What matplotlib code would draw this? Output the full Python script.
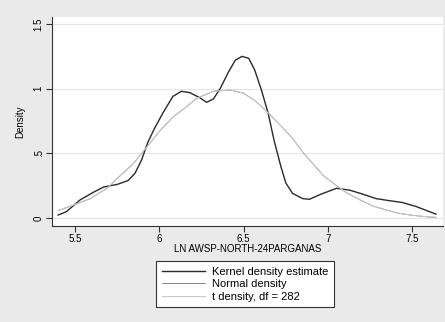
import matplotlib
matplotlib.use("Agg")
import matplotlib.pyplot as plt

plt.rcParams["font.family"] = ["Liberation Sans", "DejaVu Sans"]

# Kernel density estimate
kern_x = [5.40, 5.45, 5.53, 5.61, 5.67, 5.75, 5.815, 5.855, 5.895, 5.93, 5.97, 6.02,
          6.08, 6.13, 6.18, 6.24, 6.28, 6.32, 6.36, 6.41, 6.45, 6.49, 6.53, 6.565,
          6.605, 6.645, 6.68, 6.72, 6.75, 6.79, 6.85, 6.89, 6.95, 7.05, 7.13, 7.205,
          7.285, 7.36, 7.44, 7.52, 7.58, 7.64]
kern_y = [0.023, 0.05, 0.14, 0.20, 0.24, 0.26, 0.29, 0.345, 0.45, 0.58, 0.69, 0.81,
          0.94, 0.98, 0.97, 0.93, 0.895, 0.92, 1.00, 1.13, 1.22, 1.25, 1.235, 1.145,
          0.99, 0.81, 0.60, 0.40, 0.27, 0.19, 0.15, 0.145, 0.18, 0.23, 0.215, 0.185,
          0.15, 0.135, 0.12, 0.09, 0.06, 0.03]

# Normal density and t density (df = 282), nearly identical
dens_x = [5.40, 5.49, 5.59, 5.69, 5.77, 5.845, 5.92, 6.00, 6.08, 6.16, 6.22, 6.32,
          6.42, 6.50, 6.575, 6.655, 6.73, 6.79, 6.85, 6.91, 6.97, 7.03, 7.11, 7.19,
          7.265, 7.345, 7.42, 7.50, 7.58, 7.64]
norm_y = [0.057, 0.10, 0.15, 0.23, 0.33, 0.42, 0.54, 0.67, 0.78, 0.86, 0.925, 0.98,
          0.99, 0.965, 0.90, 0.80, 0.70, 0.615, 0.51, 0.42, 0.33, 0.27, 0.195, 0.14,
          0.093, 0.062, 0.036, 0.021, 0.01, 0.005]
t_y = [0.058, 0.10, 0.15, 0.23, 0.33, 0.42, 0.54, 0.67, 0.78, 0.86, 0.925, 0.98,
       0.99, 0.965, 0.90, 0.80, 0.70, 0.615, 0.51, 0.42, 0.33, 0.27, 0.195, 0.14,
       0.093, 0.062, 0.037, 0.021, 0.011, 0.006]

x_ticks = [5.5, 6, 6.5, 7, 7.5]
x_labels = ["5.5", "6", "6.5", "7", "7.5"]
y_ticks = [0, 0.5, 1, 1.5]
y_labels = ["0", ".5", "1", "1.5"]

bg = "#eaeaea"
fig = plt.figure(figsize=(4.45, 3.22), dpi=100, facecolor=bg)
ax = fig.add_axes([0.117, 0.298, 0.878, 0.649])
ax.set_facecolor("white")

for yt in y_ticks:
    ax.axhline(yt, color="#e4e4e4", lw=0.8, zorder=0)

ax.plot(kern_x, kern_y, color="#2a2a2a", lw=1.0, label="Kernel density estimate")
ax.plot(dens_x, norm_y, color="#555555", lw=0.5, label="Normal density")
ax.plot(dens_x, t_y, color="#c8c8c8", lw=0.8, label="t density, df = 282")

ax.set_xlim(5.364, 7.68)
ax.set_ylim(-0.062, 1.554)
ax.set_xticks(x_ticks)
ax.set_xticklabels(x_labels, fontsize=7)
ax.set_yticks(y_ticks)
ax.set_yticklabels(y_labels, fontsize=7, rotation=90, va="center")
ax.tick_params(direction="out", length=4, width=0.8, color="#333333", pad=2)
for side in ["top", "right"]:
    ax.spines[side].set_visible(False)
for side in ["left", "bottom"]:
    ax.spines[side].set_color("#333333")
    ax.spines[side].set_linewidth(0.8)

ax.set_xlabel("LN AWSP-NORTH-24PARGANAS", fontsize=7, labelpad=0)
ax.set_ylabel("Density", fontsize=7, labelpad=6)

leg = fig.legend(loc="upper left", bbox_to_anchor=(0.351, 0.189), fontsize=8,
                 handlelength=3.9, handletextpad=0.6, labelspacing=0.22,
                 borderpad=0.5, borderaxespad=0, fancybox=False, framealpha=1)
leg.get_frame().set_edgecolor("#333333")
leg.get_frame().set_linewidth(0.8)

fig.savefig("out.png", dpi=100, facecolor=bg)
